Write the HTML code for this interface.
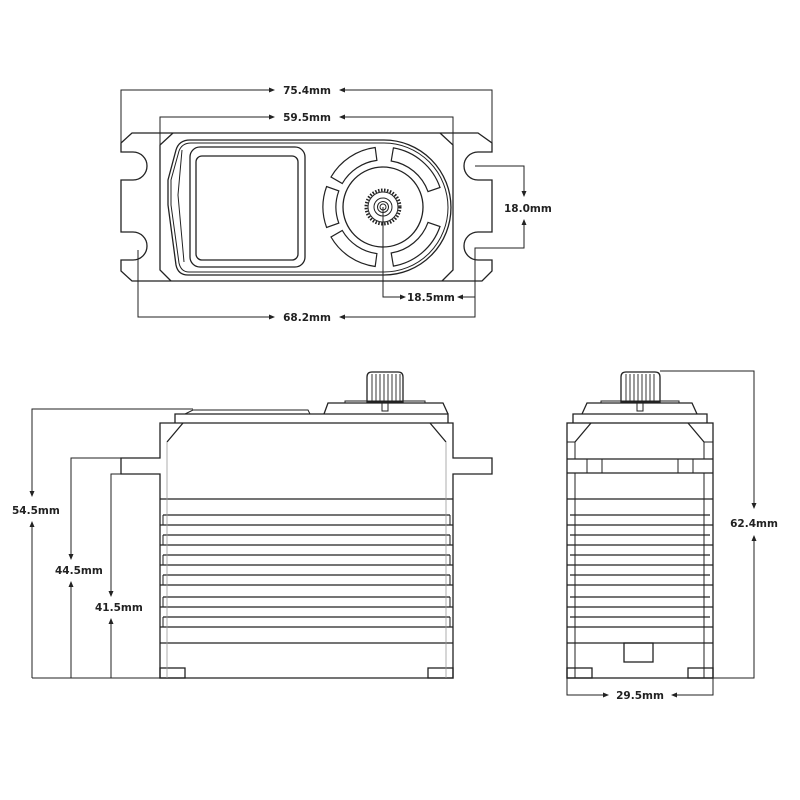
<!DOCTYPE html>
<html><head><meta charset="utf-8"><style>
html,body{margin:0;padding:0;background:#fff}
svg{display:block}
text{font-family:"DejaVu Sans","Liberation Sans",sans-serif;font-size:10.5px;font-weight:bold;fill:#222}
</style></head><body>
<svg width="800" height="800" viewBox="0 0 800 800" xmlns="http://www.w3.org/2000/svg">
<defs>
<marker id="a" markerWidth="6" markerHeight="6" refX="5" refY="3" orient="auto" markerUnits="userSpaceOnUse"><path d="M0,0.5 L6,3 L0,5.5z" fill="#222"/></marker>
</defs>
<g fill="none" stroke="#222" stroke-width="1.3">
<!-- TOP VIEW -->
<path d="M132,133 L478,133 L492,143 L492,152 L478,152 A14,14 0 1 0 478,180 L492,180 L492,232 L478,232 A14,14 0 1 0 478,260 L492,260 L492,271 L482,281 L132,281 L121,271 L121,260 L133,260 A14,14 0 1 0 133,232 L121,232 L121,180 L133,180 A14,14 0 1 0 133,152 L121,152 L121,143 Z"/>
<path d="M173,133 L160,145 L160,270 L171,281 M440,133 L453,145 L453,270 L442,281"/>
<path d="M190,140 L384,140 A67,67.5 0 0 1 384,275 L188,275 Q178,275 176,265 L168,205 L168,180 L176,150 Q179,140 190,140 Z"/>
<path d="M191,143 L384,143 A64,64.5 0 0 1 384,272 L189,272 Q181,272 179,263 L171,205 L171,180 L179,151 Q182,143 191,143 Z" stroke-width="1"/>
<path d="M182,150 L178,195 L184,262" stroke-width="1"/>
<rect x="190" y="147" width="115" height="120" rx="10"/>
<rect x="196" y="156" width="102" height="104" rx="6"/>
<circle cx="383" cy="207" r="40"/>
<!-- segments -->
<g stroke-width="1.2">
<path d="M393.4,147.9 A60,60 0 0 1 440.0,187.5 L428.0,191.6 A47,47 0 0 0 391.2,161.0 Z"/>
<path d="M440.0,226.5 A60,60 0 0 1 393.4,266.1 L391.2,253.0 A47,47 0 0 0 428.0,222.4 Z"/>
<path d="M375.2,147.5 A60,60 0 0 0 331.0,177.0 L342.3,183.5 A47,47 0 0 1 376.9,160.4 Z"/>
<path d="M326.6,186.5 A60,60 0 0 0 326.6,227.5 L338.8,223.1 A47,47 0 0 1 338.8,190.9 Z"/>
<path d="M331.0,237.0 A60,60 0 0 0 375.2,266.5 L376.9,253.6 A47,47 0 0 1 342.3,230.5 Z"/>
</g>
<circle cx="383" cy="207" r="17" stroke-width="3" stroke-dasharray="1.5 1.5"/>
<circle cx="383" cy="207" r="15" stroke-width="1"/>
<circle cx="383" cy="207" r="9" stroke-width="1"/>
<circle cx="383" cy="207" r="5.5" stroke-width="1"/>
<circle cx="383" cy="207" r="3" stroke-width="1"/>
</g>
<!-- top dims -->
<g fill="none" stroke="#222" stroke-width="1">
<path d="M121,143 L121,90 L274,90" marker-end="url(#a)"/>
<path d="M492,143 L492,90 L340,90" marker-end="url(#a)"/>
<path d="M160,145 L160,117 L274,117" marker-end="url(#a)"/>
<path d="M453,145 L453,117 L340,117" marker-end="url(#a)"/>
<path d="M475,166 L524,166 L524,196" marker-end="url(#a)"/>
<path d="M475,297 L475,248 L524,248 L524,220" marker-end="url(#a)"/>
<path d="M383,207 L383,297 L405,297" marker-end="url(#a)"/>
<path d="M475,297 L458,297" marker-end="url(#a)"/>
<path d="M138,250 L138,317 L274,317" marker-end="url(#a)"/>
<path d="M475,297 L475,317 L340,317" marker-end="url(#a)"/>
</g>
<text x="307" y="94" text-anchor="middle">75.4mm</text>
<text x="307" y="121" text-anchor="middle">59.5mm</text>
<text x="504" y="212">18.0mm</text>
<text x="407" y="301">18.5mm</text>
<text x="307" y="321" text-anchor="middle">68.2mm</text>

<!-- SIDE VIEW -->
<g fill="none" stroke="#222" stroke-width="1.3">
<path d="M160,458 L160,423 L453,423 L453,458 L492,458 L492,474 L453,474 L453,678 L160,678 L160,474 L121,474 L121,458 Z"/>
<path d="M167,442 L183,423 M446,442 L430,423"/>
<path d="M175,423 L175,414 L448,414 L448,423"/>
<path d="M185,414 L193,410 L308,410 L310,414" stroke-width="1"/>
<path d="M324,414 L328,403 L443,403 L448,414"/>
<path d="M345,403 L345,401 L425,401 L425,403" stroke-width="1"/>
<path d="M382,403 L382,411 L388,411 L388,403" stroke-width="1"/>
<path d="M367,402 L367,377 Q367,372 372,372 L398,372 Q403,372 403,377 L403,402 Z"/>
<path d="M372,374 V402 M376,374 V402 M380,374 V402 M384,374 V402 M388,374 V402 M392,374 V402 M396,374 V402 M400,374 V402" stroke-width="0.9"/>
<path d="M160,499 H453 M163,515 H450 M160,525 H453 M163,535 H450 M160,545 H453 M163,555 H450 M160,565 H453 M163,575 H450 M160,585 H453 M163,597 H450 M160,607 H453 M163,617 H450 M160,627 H453 M160,643 H453"/>
<path d="M163,515 V525 M163,535 V545 M163,555 V565 M163,575 V585 M163,597 V607 M163,617 V627 M450,515 V525 M450,535 V545 M450,555 V565 M450,575 V585 M450,597 V607 M450,617 V627" stroke-width="1"/>
<rect x="160" y="668" width="25" height="10"/>
<rect x="428" y="668" width="25" height="10"/>
</g>
<path d="M167,442 V678 M446,442 V678" stroke="#999" stroke-width="0.8" fill="none"/>
<g fill="none" stroke="#222" stroke-width="1">
<path d="M193,409 L32,409 L32,496" marker-end="url(#a)"/>
<path d="M32,678 L32,522" marker-end="url(#a)"/>
<path d="M32,678 H160"/>
<path d="M121,458 L71,458 L71,559" marker-end="url(#a)"/>
<path d="M71,678 L71,582" marker-end="url(#a)"/>
<path d="M121,474 L111,474 L111,596" marker-end="url(#a)"/>
<path d="M111,678 L111,619" marker-end="url(#a)"/>
</g>
<text x="12" y="514">54.5mm</text>
<text x="55" y="574">44.5mm</text>
<text x="95" y="611">41.5mm</text>

<!-- FRONT VIEW -->
<g fill="none" stroke="#222" stroke-width="1.3">
<rect x="567" y="423" width="146" height="255"/>
<path d="M575,442 L591,423 M704,442 L688,423"/>
<path d="M575,442 V459 M704,442 V459 M567,442 H575 M713,442 H704" stroke-width="1"/>
<path d="M567,459 H713 M567,473 H713"/>
<path d="M587,459 V473 M602,459 V473 M678,459 V473 M693,459 V473" stroke-width="1"/>
<path d="M575,473 V678 M704,473 V678" stroke-width="1"/>
<path d="M573,423 L573,414 L707,414 L707,423"/>
<path d="M582,414 L587,403 L692,403 L697,414"/>
<path d="M601,403 L601,401 L679,401 L679,403" stroke-width="1"/>
<path d="M637,403 V411 H643 V403" stroke-width="1"/>
<path d="M621,402 L621,377 Q621,372 626,372 L655,372 Q660,372 660,377 L660,402 Z"/>
<path d="M626,374 V402 M630,374 V402 M634,374 V402 M638,374 V402 M642,374 V402 M646,374 V402 M650,374 V402 M654,374 V402" stroke-width="0.9"/>
<path d="M567,499 H713 M570,515 H710 M567,525 H713 M570,535 H710 M567,545 H713 M570,555 H710 M567,565 H713 M570,575 H710 M567,585 H713 M570,597 H710 M567,607 H713 M570,617 H710 M567,627 H713 M567,643 H713"/>
<rect x="624" y="643" width="29" height="19"/>
<rect x="567" y="668" width="25" height="10"/>
<rect x="688" y="668" width="25" height="10"/>
</g>
<g fill="none" stroke="#222" stroke-width="1">
<path d="M660,371 L754,371 L754,508" marker-end="url(#a)"/>
<path d="M713,678 L754,678 L754,536" marker-end="url(#a)"/>
<path d="M567,678 L567,695 L608,695" marker-end="url(#a)"/>
<path d="M713,678 L713,695 L672,695" marker-end="url(#a)"/>
</g>
<text x="754" y="527" text-anchor="middle">62.4mm</text>
<text x="640" y="699" text-anchor="middle">29.5mm</text>
</svg>
</body></html>
